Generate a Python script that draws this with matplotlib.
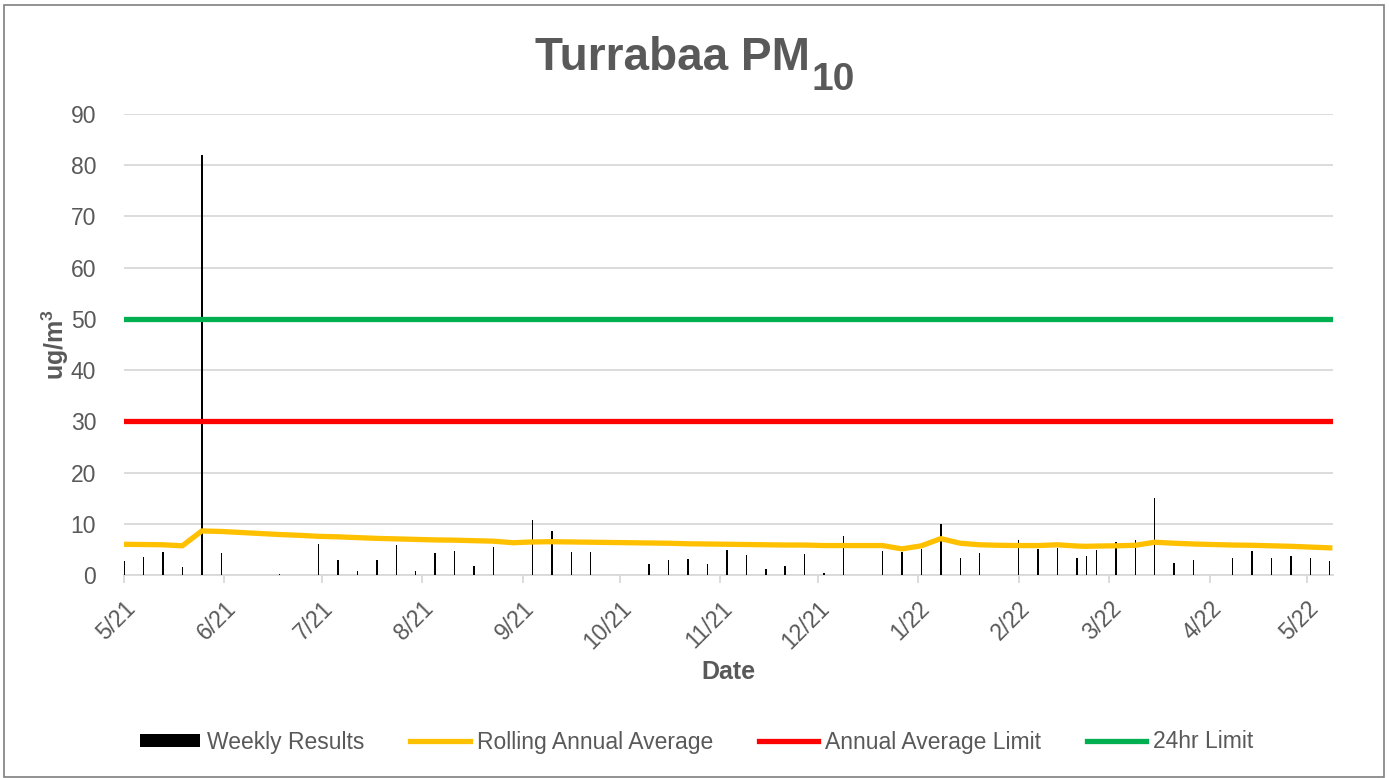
import matplotlib
matplotlib.use("Agg")
import matplotlib.pyplot as plt
from matplotlib.patches import Rectangle
import numpy as np

plt.rcParams['font.family'] = ['Liberation Sans', 'DejaVu Sans']

# sample dates (1 in 6 day schedule, plus one extra run in Feb)
dates = ["2021-05-01", "2021-05-07", "2021-05-13", "2021-05-19", "2021-05-25", "2021-05-31",
         "2021-06-06", "2021-06-12", "2021-06-18", "2021-06-24", "2021-06-30", "2021-07-06",
         "2021-07-12", "2021-07-18", "2021-07-24", "2021-07-30", "2021-08-05", "2021-08-11",
         "2021-08-17", "2021-08-23", "2021-08-29", "2021-09-04", "2021-09-10", "2021-09-16",
         "2021-09-22", "2021-09-28", "2021-10-04", "2021-10-10", "2021-10-16", "2021-10-22",
         "2021-10-28", "2021-11-03", "2021-11-09", "2021-11-15", "2021-11-21", "2021-11-27",
         "2021-12-03", "2021-12-09", "2021-12-15", "2021-12-21", "2021-12-27", "2022-01-02",
         "2022-01-08", "2022-01-14", "2022-01-20", "2022-01-26", "2022-02-01", "2022-02-07",
         "2022-02-13", "2022-02-19", "2022-02-22", "2022-02-25", "2022-03-03", "2022-03-09",
         "2022-03-15", "2022-03-21", "2022-03-27", "2022-04-02", "2022-04-08", "2022-04-14",
         "2022-04-20", "2022-04-26", "2022-05-02", "2022-05-08"]

nan = np.nan
weekly = [2.8, 3.6, 4.5, 1.6, 82.0, 4.3,
          nan, nan, 0.15, nan, 6.1, 2.9,
          0.85, 3.0, 5.9, 0.8, 4.2, 4.6,
          1.75, 5.4, nan, 10.8, 8.6, 4.5,
          4.4, nan, nan, 2.1, 2.9, 3.05,
          2.1, 4.9, 4.0, 1.1, 1.7, 4.1,
          0.4, 7.7, nan, 4.7, 4.5, 5.1,
          9.9, 3.4, 4.2, nan, 6.75, 5.1,
          5.3, 3.4, 3.8, 4.9, 6.4, 6.75,
          15.1, 2.3, 3.0, nan, 3.25, 4.6,
          3.4, 3.8, 3.25, 2.7]

rolling = [6.0, 5.95, 5.9, 5.7, 8.6, 8.5,
           8.3, 8.1, 7.9, 7.75, 7.55, 7.45,
           7.3, 7.15, 7.05, 6.95, 6.85, 6.8,
           6.7, 6.6, 6.3, 6.45, 6.5, 6.45,
           6.4, 6.35, 6.3, 6.25, 6.2, 6.1,
           6.05, 6.0, 5.95, 5.9, 5.85, 5.85,
           5.75, 5.75, 5.75, 5.75, 5.1, 5.7,
           7.1, 6.2, 5.9, 5.8, 5.75, 5.75,
           5.9, 5.65, 5.6, 5.65, 5.7, 5.8,
           6.4, 6.2, 6.05, 5.95, 5.85, 5.8,
           5.7, 5.6, 5.45, 5.3]

annual_limit = 30
daily_limit = 50

month_ticks = ["2021-05-01", "2021-06-01", "2021-07-01", "2021-08-01", "2021-09-01", "2021-10-01",
               "2021-11-01", "2021-12-01", "2022-01-01", "2022-02-01", "2022-03-01", "2022-04-01",
               "2022-05-01"]
month_labels = ["5/21", "6/21", "7/21", "8/21", "9/21", "10/21", "11/21", "12/21",
                "1/22", "2/22", "3/22", "4/22", "5/22"]

x = np.array(dates, dtype="datetime64[D]")
start = np.datetime64("2021-05-01")
end = np.datetime64("2022-05-09")

grey = "#595959"

fig = plt.figure(figsize=(13.89, 7.78), dpi=100)
ax = fig.add_axes([124/1389, 1-575/778, (1333-124)/1389, (575-114)/778])

bars = ax.bar(x, weekly, width=0.45, color="black", linewidth=0, label="Weekly Results", zorder=3)
l1, = ax.plot(x, rolling, color="#FFC000", linewidth=3.8, label="Rolling Annual Average", zorder=4)
l2, = ax.plot([start, end], [annual_limit]*2, color="#FF0000", linewidth=3.8, label="Annual Average Limit", zorder=4)
l3, = ax.plot([start, end], [daily_limit]*2, color="#00B050", linewidth=3.8, label="24hr Limit", zorder=4)

ax.set_xlim(start, end)
ax.set_ylim(0, 90)
ax.set_yticks(np.arange(0, 91, 10))
ax.yaxis.grid(True, color="#D9D9D9", linewidth=1.3, zorder=0)
ax.set_axisbelow(True)

ax.set_xticks(np.array(month_ticks, dtype="datetime64[D]"))
ax.set_xticklabels(month_labels, rotation=45, ha="right", va="top", rotation_mode="anchor")

for s in ["top", "right", "left"]:
    ax.spines[s].set_visible(False)
ax.spines["bottom"].set_color("#D9D9D9")
ax.spines["bottom"].set_linewidth(1.3)
ax.tick_params(axis="y", length=0, pad=20, labelsize=16.5, labelcolor=grey)
ax.tick_params(axis="x", length=6, width=1.3, color="#D9D9D9", pad=10, labelsize=16.5, labelcolor=grey)

ax.set_ylabel(r"ug/m$^{\mathregular{3}}$", fontsize=18, fontweight="bold", color=grey, labelpad=0)
ax.set_xlabel("Date", fontsize=18, fontweight="bold", color=grey, labelpad=4)

# title with subscript
fig.text(810/1389, 1-70/778, "Turrabaa PM", fontsize=33, fontweight="bold", color=grey,
         ha="right", va="baseline")
fig.text(812/1389, 1-90/778, "10", fontsize=28, fontweight="bold", color=grey,
         ha="left", va="baseline")

fig.legend(handles=[bars, l1, l2, l3], loc="center", bbox_to_anchor=(697/1389, 1-742/778), ncol=4,
           frameon=False, fontsize=16.5, labelcolor=grey, columnspacing=2.0, handletextpad=0.3,
           handlelength=2.6, handleheight=0.5)

fig.patches.append(Rectangle((4/1389, 1/778), 1380/1389, 772/778, transform=fig.transFigure,
                             fill=False, edgecolor="#7F7F7F", linewidth=1.2))

fig.savefig("out.png", dpi=100)
